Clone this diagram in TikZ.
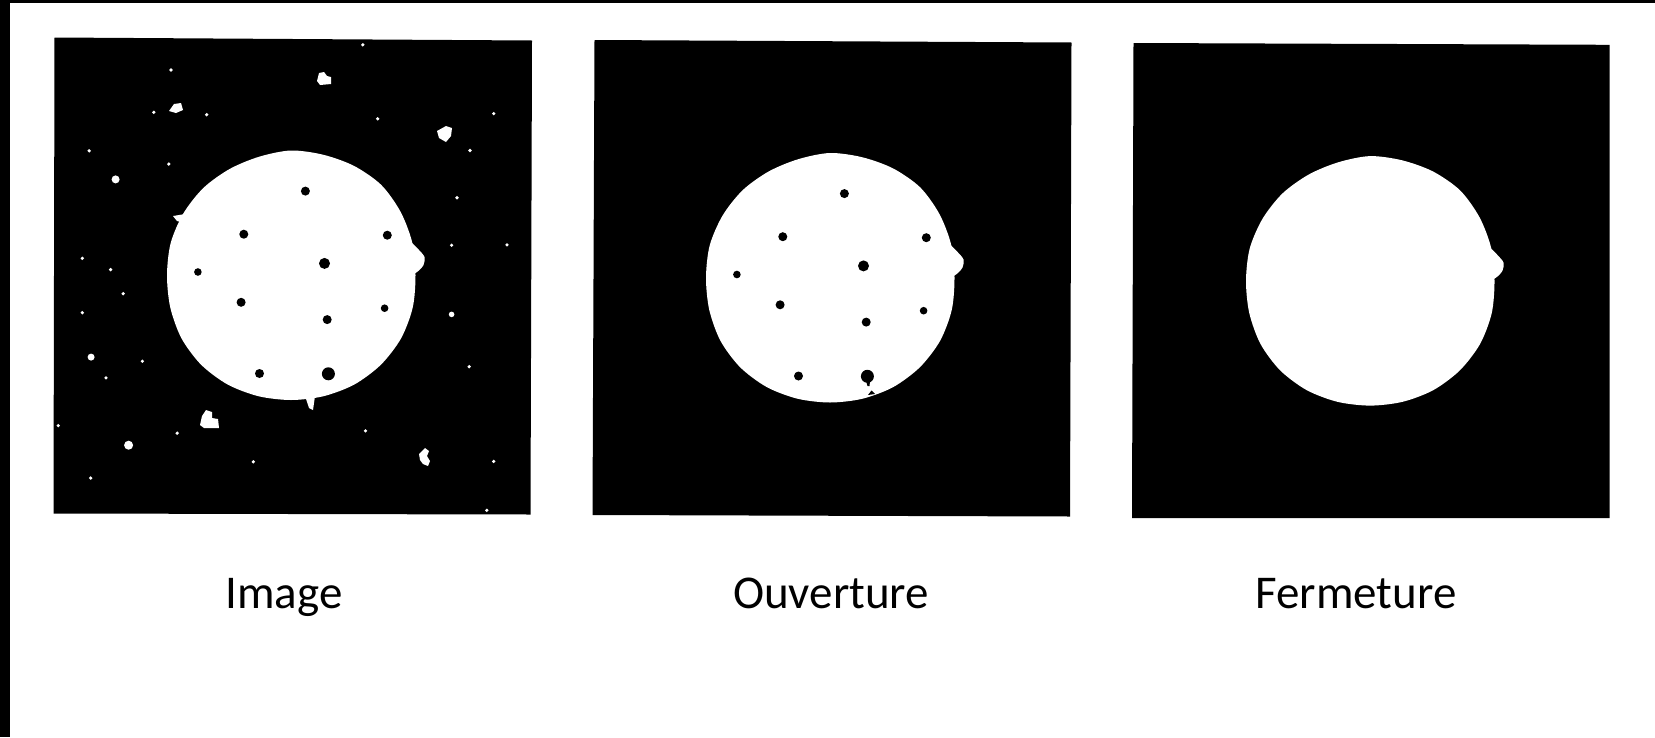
\documentclass[tikz,border=0pt]{standalone}
\usepackage{fontspec}
\setmainfont{Carlito}
\tikzset{
  panelbg/.style={fill=black},
  speck/.style={fill=white},
  hole/.style={fill=black},
  caption/.style={font=\fontsize{47}{56}\selectfont, anchor=base, inner sep=0pt, text=black},
  disc/.pic={
    \fill[white] plot[smooth cycle, tension=0.5] coordinates {
      (0:124.5) (15:126) (30:127) (45:127) (60:126.5) (75:125.5)
      (90:125) (105:125.5) (120:126.5) (135:127) (150:126.5) (165:125)
      (180:124) (195:124.5) (210:124) (225:123.5) (240:122.5) (255:122.5)
      (270:124.5) (285:124.5) (300:126) (315:127.5) (330:126.5) (345:125.5)};
    \fill[white] plot[smooth cycle, tension=0.5] coordinates {
      (112,-38) (121,-32) (128,-25) (133.5,-18) (132.5,-10) (126,-3) (114,2) (105,-18)};
  },
  dots/.pic={
    \fill[black] (14.4,-83.9) circle (4.5);
    \fill[black] (-47.2,-40.8) circle (4.5);
    \fill[black] (96.3,-39.8) circle (4.5);
    \fill[black] (33.5,-11.6) circle (5.5);
    \fill[black] (-93.1,-3) circle (3.8);
    \fill[black] (-49.9,27.3) circle (4.5);
    \fill[black] (93.6,33.2) circle (3.8);
    \fill[black] (36.2,44.6) circle (4.5);
    \fill[black] (-31.5,98.5) circle (4.5);
    \fill[black] (37.4,98.8) circle (6.5);
  }
}
\begin{document}
\begin{tikzpicture}[x=1pt,y=-1pt]
\useasboundingbox (0,0) rectangle (1655,737);
\fill[white] (0,0) rectangle (1655,737);
\fill[black] (0,0) rectangle (10,737);
\fill[black] (0,0) rectangle (1655,3);

% ---------- panel 1 : Image ----------
\fill[panelbg] (54.5,37.5) -- (532,40.5) -- (530.5,514.5) -- (53.5,513.5) -- cycle;
\pic at (291,275) {disc};
\fill[white] (305,396) -- (315,396) -- (313,410) -- (309,408) -- cycle;
\fill[white] (185,214) -- (173,216) -- (177,221) -- (185,223) -- cycle;
\pic at (291,275) {dots};
% specks
\foreach \p in {(362.8,44.8),(171,70),(153.8,112.3),(206.7,114.7),(377.7,118.8),
  (493.7,113.6),(89.2,150.8),(470,150.5),(168.8,164),(457,197.7),(507,244.8),
  (451.6,245.2),(82.3,258.3),(110.6,269.6),(123.2,293.7),(82.3,312.7),
  (142.4,361.2),(106,377.8),(469.2,366.7),(58.2,425.6),(177.2,433.2),
  (365.5,430.8),(253.3,461.8),(493.7,461.4),(90.7,478),(486.8,510.3)}
  \fill[speck] \p circle (1.8);
\fill[speck] (451.6,314.4) circle (2.8);
\fill[speck] (115.6,179.4) circle (4);
\fill[speck] (91.1,357.1) circle (3.5);
\fill[speck] (128.6,445.2) circle (4.5);
\fill[speck] (317,81) -- (319,73) -- (324,72) -- (327,76) -- (331,77) -- (331,84) -- (320,85) -- cycle;
\fill[speck] (169,111) -- (174,104) -- (181,103) -- (183,110) -- (176,113) -- cycle;
\fill[speck] (437,131) -- (446,126) -- (452,128) -- (451,136) -- (446,142) -- (439,138) -- cycle;
\fill[speck] (200,425) -- (202,416) -- (206,410) -- (212,412) -- (212,418) -- (218,419) -- (219,428) -- (204,428) -- cycle;
\fill[speck] (419,454) -- (425,448) -- (429,451) -- (427,456) -- (430,461) -- (428,466) -- (423,464) -- (420,460) -- cycle;

% ---------- panel 2 : Ouverture ----------
\fill[panelbg] (594.5,40) -- (1071.5,42.5) -- (1070,516.5) -- (592.5,515) -- cycle;
\pic at (830,277.5) {disc};
\pic at (830,277.5) {dots};
\fill[hole] (866,381) -- (870,381) -- (869.5,386) -- (867.5,386) -- cycle;
\fill[hole] (868,395) -- (871.5,390.5) -- (875,394) -- cycle;

% ---------- panel 3 : Fermeture ----------
\fill[panelbg] (1133.5,43) -- (1609.7,44.8) -- (1609.7,518.2) -- (1132,518.2) -- cycle;
\pic at (1370,280.6) {disc};

% ---------- captions ----------
\node[caption] (capimage) at (284,608) {Image};
\node[caption] (capouv) at (831,608) {Ouverture};
\node[caption] (capferm) at (1356,608) {Fermeture};
\end{tikzpicture}
\end{document}
